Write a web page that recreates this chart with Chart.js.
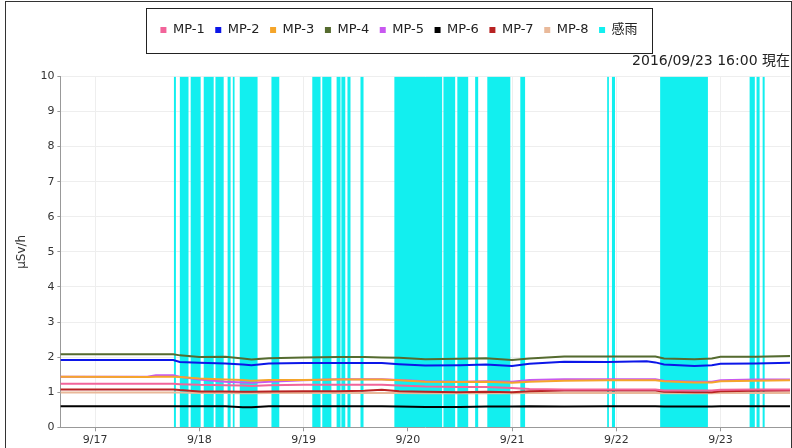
<!DOCTYPE html>
<html>
<head>
<meta charset="utf-8">
<script src="https://cdn.jsdelivr.net/npm/chart.js@4.4.0/dist/chart.umd.min.js"></script>
<style>
html,body{margin:0;padding:0;background:#fff;}
#wrap{width:792px;height:448px;position:relative;}
</style>
</head>
<body>
<div id="wrap"><canvas id="c" width="792" height="448"></canvas></div>
<script>
// ---- data (x = hours from 2016/09/17 00:00) ----
const seriesNames = ['MP-1','MP-2','MP-3','MP-4','MP-5','MP-6','MP-7','MP-8'];
const rainName = '感雨';
const dateNote = '2016/09/23 16:00 現在';
const yTitle = 'μSv/h';
const dayTicks = [0, 24, 48, 72, 96, 120, 144];
const tickLabels = ['9/17','9/18','9/19','9/20','9/21','9/22','9/23'];
const xMin = -8, xMax = 160;

const hours = [-8, 12, 14, 18, 19.5, 24, 30, 34, 36, 40, 48, 56, 62, 66, 70, 76, 84, 90, 96, 100, 108, 118, 127, 129, 131, 138, 142, 144, 152, 160];

const mp1 = [1.24,1.24,1.24,1.24,1.23,1.21,1.20,1.19,1.18,1.20,1.21,1.21,1.21,1.21,1.19,1.16,1.15,1.15,1.12,1.09,1.08,1.08,1.08,1.08,1.05,1.05,1.05,1.07,1.08,1.08];
const mp2 = [1.92,1.92,1.92,1.92,1.86,1.84,1.82,1.79,1.77,1.82,1.83,1.83,1.83,1.83,1.80,1.76,1.77,1.79,1.75,1.81,1.87,1.86,1.88,1.85,1.79,1.75,1.77,1.81,1.82,1.84];
const mp3 = [1.44,1.43,1.44,1.44,1.43,1.39,1.36,1.35,1.33,1.35,1.35,1.36,1.36,1.36,1.34,1.30,1.29,1.30,1.27,1.30,1.33,1.34,1.34,1.34,1.31,1.28,1.28,1.31,1.33,1.34];
const mp4 = [2.08,2.08,2.08,2.08,2.05,2.00,2.01,1.96,1.93,1.97,1.99,2.00,2.00,1.99,1.98,1.94,1.95,1.97,1.92,1.96,2.02,2.02,2.02,2.02,1.96,1.94,1.96,2.01,2.01,2.03];
const mp5 = [1.44,1.44,1.48,1.48,1.44,1.36,1.30,1.28,1.27,1.30,1.34,1.37,1.37,1.37,1.35,1.31,1.30,1.31,1.30,1.35,1.37,1.37,1.37,1.37,1.33,1.30,1.30,1.34,1.36,1.36];
const mp6 = [0.60,0.60,0.60,0.60,0.60,0.60,0.60,0.57,0.57,0.60,0.60,0.60,0.60,0.60,0.59,0.58,0.58,0.59,0.59,0.60,0.59,0.60,0.60,0.60,0.59,0.59,0.59,0.60,0.60,0.60];
const mp7 = [1.08,1.08,1.08,1.08,1.06,1.02,1.02,1.01,1.01,1.02,1.03,1.03,1.04,1.07,1.03,1.01,1.00,1.01,1.00,1.03,1.05,1.05,1.05,1.05,1.01,1.00,1.00,1.03,1.04,1.05];
const mp8 = [0.99,0.99,0.99,0.99,0.99,0.98,0.98,0.97,0.97,0.98,0.98,0.98,0.98,0.98,0.98,0.97,0.97,0.97,0.97,0.98,0.98,0.98,0.98,0.98,0.97,0.97,0.97,0.98,0.98,0.98];

// rain periods (hours from 9/17 00:00)
const rainStart = [18.1,19.5,22.0,25.0,27.7,30.5,31.7,33.3,40.6,50.0,52.3,55.6,56.7,58.1,61.1,68.9,80.2,83.4,87.5,90.3,97.9,117.9,119.0,130.1,150.7,152.3,153.7];
const rainEnd   = [18.6,21.5,24.3,27.3,29.6,31.2,32.1,37.4,42.4,51.9,54.4,56.5,57.6,58.8,61.8,79.9,82.9,85.9,88.2,95.6,99.0,118.3,119.7,141.1,151.9,153.0,154.2];
const rainLevel = 10;

// ---- styles ----
const colors = ['#F2649A','#0C16E8','#F5A52A','#556B2F','#C858F0','#000000','#B82222','#E9B99A'];
const rainColor = '#12EFEF';
const FONT = "'DejaVu Sans', 'Noto Sans CJK JP', sans-serif";

const seriesValues = [mp1, mp2, mp3, mp4, mp5, mp6, mp7, mp8];
const datasets = seriesNames.map((name, k) => ({
  label: name,
  data: hours.map((h, i) => ({x: h, y: seriesValues[k][i]})),
  borderColor: colors[k],
  backgroundColor: colors[k],
  borderWidth: 2,
  pointRadius: 0,
  tension: 0,
  fill: false,
  order: 1
}));
const rainPts = [];
rainStart.forEach((s, i) => { rainPts.push({x: s, y: rainLevel}); rainPts.push({x: rainEnd[i], y: 0}); });
datasets.push({
  label: rainName,
  data: rainPts,
  stepped: true,
  fill: 'origin',
  borderWidth: 0,
  borderColor: rainColor,
  backgroundColor: rainColor,
  pointRadius: 0,
  order: 10
});

const framePlugin = {
  id: 'frame',
  afterDraw(chart) {
    const ctx = chart.ctx;
    ctx.save();
    ctx.strokeStyle = '#333';
    ctx.lineWidth = 1;
    ctx.strokeRect(5.5, 1.5, 786, 470);
    const lg = chart.legend;
    if (lg && lg.legendHitBoxes && lg.legendHitBoxes.length) {
      const hb = lg.legendHitBoxes;
      const l = Math.min(...hb.map(h => h.left)) - 14;
      const r = Math.max(...hb.map(h => h.left + h.width)) + 15;
      const t = hb[0].top - 16;
      const b = hb[0].top + hb[0].height + 15.5;
      ctx.strokeStyle = '#222';
      ctx.strokeRect(Math.round(l) + 0.5, Math.round(t) + 0.5, Math.round(r - l), Math.round(b - t));
    }
    ctx.restore();
  }
};

new Chart(document.getElementById('c'), {
  type: 'line',
  data: { datasets },
  plugins: [framePlugin],
  options: {
    responsive: false,
    animation: false,
    devicePixelRatio: 1,
    layout: { padding: { top: 13, left: 8, right: 2, bottom: -1.5 } },
    plugins: {
      tooltip: { enabled: false },
      legend: {
        position: 'top',
        labels: {
          boxWidth: 6, boxHeight: 6, padding: 10.6,
          color: '#222',
          font: { family: FONT, size: 13 },
          generateLabels(chart) {
            return Chart.defaults.plugins.legend.labels.generateLabels(chart).map(l => Object.assign(l, {lineWidth: 0}));
          }
        }
      },
      subtitle: {
        display: true,
        text: dateNote,
        align: 'end',
        weight: 500,
        color: '#222',
        font: { family: FONT, size: 14, weight: 'normal' },
        padding: { top: 6.4, bottom: 6.6 }
      }
    },
    scales: {
      x: {
        type: 'linear',
        min: xMin, max: xMax,
        afterBuildTicks(scale) { scale.ticks = dayTicks.map(v => ({value: v})); },
        ticks: {
          autoSkip: false, maxRotation: 0, padding: 2.5,
          color: '#333',
          font: { family: FONT, size: 11 },
          callback(v) { const i = dayTicks.indexOf(v); return i >= 0 ? tickLabels[i] : ''; }
        },
        grid: { color: '#eeeeee', tickLength: 4, tickColor: '#999' },
        border: { color: '#999' }
      },
      y: {
        min: 0, max: 10,
        ticks: { stepSize: 1, padding: 3, color: '#333', font: { family: FONT, size: 11 } },
        grid: { color: '#eeeeee', tickLength: 3, tickColor: '#999' },
        border: { color: '#999' },
        title: { display: true, text: yTitle, color: '#333', font: { family: FONT, size: 12 }, padding: { top: 7, bottom: 8 } }
      }
    }
  }
});
</script>
</body>
</html>
